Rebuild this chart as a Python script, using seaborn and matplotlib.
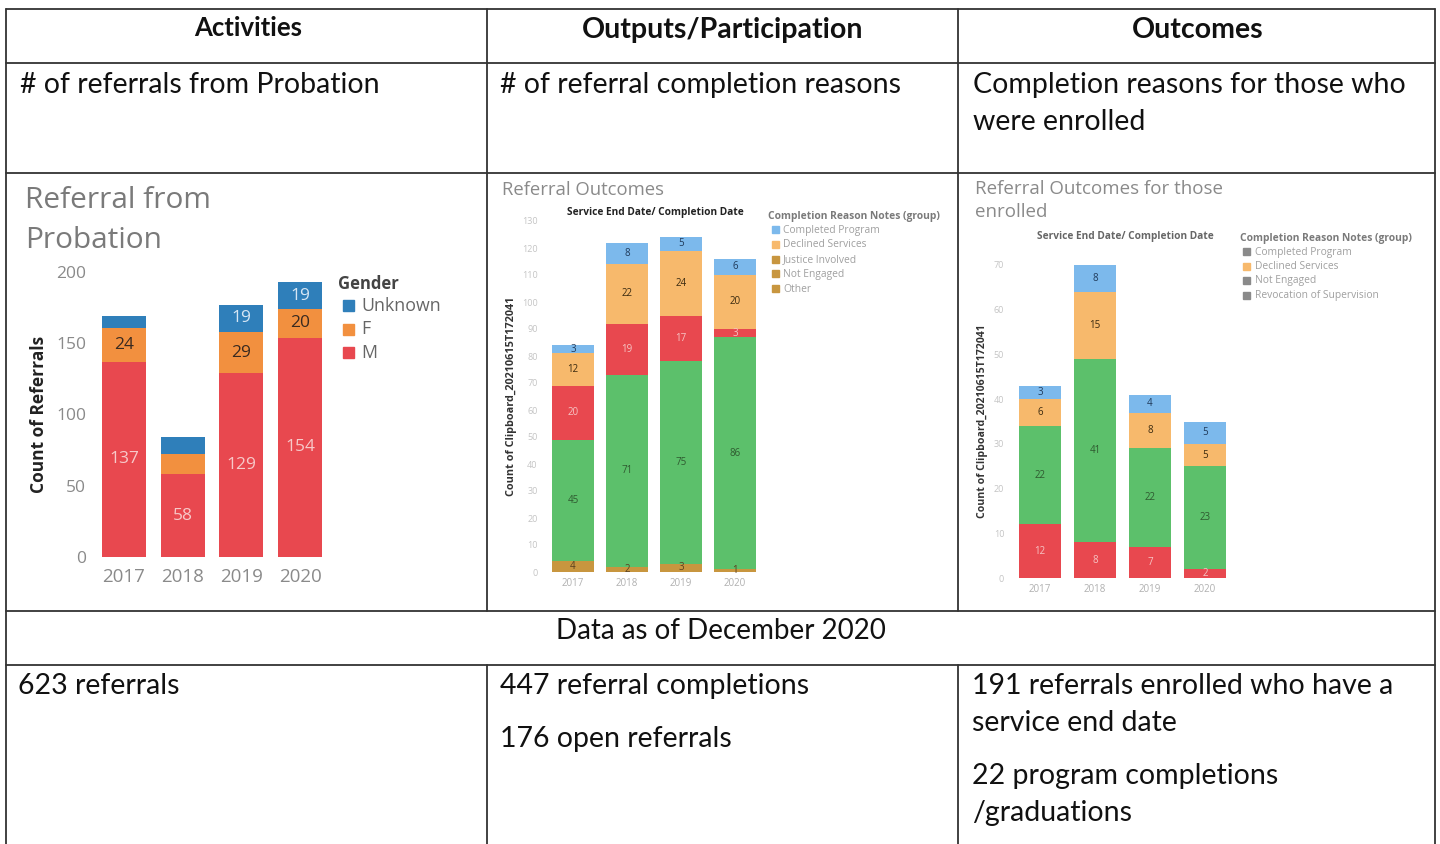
import matplotlib
matplotlib.use("Agg")
import matplotlib.pyplot as plt
import seaborn as sns
import numpy as np
import pandas as pd

sns.set_theme(style="white")
plt.rcParams['font.family'] = ['Lato', 'DejaVu Sans']

W, H = 1440, 844

# ---------------- data ----------------
years = ["2017", "2018", "2019", "2020"]

# Chart 1: Referral from Probation (by gender), stacked bottom -> top
gender_levels = ["M", "F", "Unknown"]
ref_M = [137, 58, 129, 154]
ref_F = [24, 14, 29, 20]
ref_U = [8, 12, 19, 19]
gender_show_F = [True, False, True, True]
gender_show_U = [False, False, True, True]

# Chart 2: Referral Outcomes, stacked bottom -> top
outcome_levels = ["Other", "Not Engaged", "Justice Involved", "Declined Services", "Completed Program"]
out_other = [4, 2, 3, 1]
out_not_engaged = [45, 71, 75, 86]
out_justice = [20, 19, 17, 3]
out_declined = [12, 22, 24, 20]
out_completed = [3, 8, 5, 6]
outcome_legend = ["Completed Program", "Declined Services", "Justice Involved", "Not Engaged", "Other"]

# Chart 3: Referral outcomes for those enrolled, stacked bottom -> top
enr_levels = ["Revocation of Supervision", "Not Engaged", "Declined Services", "Completed Program"]
enr_revocation = [12, 8, 7, 2]
enr_not_engaged = [22, 41, 22, 23]
enr_declined = [6, 15, 8, 5]
enr_completed = [3, 8, 4, 5]
enr_legend = ["Completed Program", "Declined Services", "Not Engaged", "Revocation of Supervision"]

ticks1 = [0, 50, 100, 150, 200]
ticks2 = list(range(0, 131, 10))
ticks3 = list(range(0, 71, 10))

# ---------------- colours ----------------
C_RED = "#e8484f"
C_ORANGE = "#f2903f"
C_BLUE = "#2f7fba"
C_LBLUE = "#7cb9ec"
C_LORANGE = "#f7b96c"
C_GREEN = "#5cc06b"
C_BROWN = "#c8963f"

fig = plt.figure(figsize=(W / 100, H / 100), dpi=100)
bg = fig.add_axes([0, 0, 1, 1])
bg.set_xlim(0, W)
bg.set_ylim(H, 0)
bg.axis("off")


def px_axes(x0, y0, x1, y1):
    return fig.add_axes([x0 / W, 1 - y1 / H, (x1 - x0) / W, (y1 - y0) / H])


# ---------------- table grid ----------------
lc = "#333333"
lw = 1.3
for y in [9, 63, 173, 611, 665]:
    bg.plot([6, 1435], [y, y], color=lc, lw=lw)
bg.plot([6, 6], [9, 844], color=lc, lw=lw)
bg.plot([1435, 1435], [9, 844], color=lc, lw=lw)
for x in [487, 958]:
    bg.plot([x, x], [9, 611], color=lc, lw=lw)
    bg.plot([x, x], [665, 844], color=lc, lw=lw)

tcol = "#111111"
bg.text(248, 28, "Activities", ha="center", va="center", fontsize=18.5, fontweight="bold", color=tcol)
bg.text(723, 30, "Outputs/Participation", ha="center", va="center", fontsize=20.5, fontweight="bold", color=tcol)
bg.text(1198, 30, "Outcomes", ha="center", va="center", fontsize=20.5, fontweight="bold", color=tcol)

fs_body = 20.5
bg.text(20, 85, "# of referrals from Probation", ha="left", va="center", fontsize=fs_body, color=tcol)
bg.text(500, 85, "# of referral completion reasons", ha="left", va="center", fontsize=fs_body, color=tcol)
bg.text(973, 85, "Completion reasons for those who", ha="left", va="center", fontsize=fs_body, color=tcol)
bg.text(973, 122, "were enrolled", ha="left", va="center", fontsize=fs_body, color=tcol)

bg.text(721, 631, "Data as of December 2020", ha="center", va="center", fontsize=20, color=tcol)
bg.text(18, 686, "623 referrals", ha="left", va="center", fontsize=fs_body, color=tcol)
bg.text(500, 686, "447 referral completions", ha="left", va="center", fontsize=fs_body, color=tcol)
bg.text(500, 739, "176 open referrals", ha="left", va="center", fontsize=fs_body, color=tcol)
bg.text(972, 686, "191 referrals enrolled who have a", ha="left", va="center", fontsize=fs_body, color=tcol)
bg.text(972, 723, "service end date", ha="left", va="center", fontsize=fs_body, color=tcol)
bg.text(972, 776, "22 program completions", ha="left", va="center", fontsize=fs_body, color=tcol)
bg.text(972, 813, "/graduations", ha="left", va="center", fontsize=fs_body, color=tcol)

CF = ['Open Sans', 'DejaVu Sans']


def stacked(ax, layers, colors, width):
    bottom = np.zeros(len(years))
    for vals, col in zip(layers, colors):
        df = pd.DataFrame({"year": years, "value": vals})
        sns.barplot(data=df, x="year", y="value", color=col, width=width,
                    bottom=bottom.copy(), ax=ax, saturation=1, edgecolor="none", linewidth=0)
        bottom = bottom + np.array(vals, dtype=float)
    return ax


def label_layer(ax, idx, vals, texts, color, fs):
    cont = ax.containers[idx]
    ax.bar_label(cont, labels=texts, label_type="center", color=color, fontsize=fs, family=CF)


def style_axes(ax, xlim, ylim, ticks, tick_color, tick_fs, xfs, xcolor, xpad=4):
    ax.set_xlim(*xlim)
    ax.set_ylim(*ylim)
    ax.set_yticks(ticks)
    ax.set_yticklabels([str(t) for t in ticks], color=tick_color, fontsize=tick_fs, family=CF)
    ax.tick_params(axis="y", length=0, pad=6)
    ax.tick_params(axis="x", length=0, pad=xpad)
    for lab in ax.get_xticklabels():
        lab.set_color(xcolor)
        lab.set_fontsize(xfs)
        lab.set_family(CF)
    for s in ax.spines.values():
        s.set_visible(False)
    ax.set_xlabel("")
    ax.patch.set_alpha(0)


# ---------------- chart 1 ----------------
ax1 = px_axes(94.5, 272, 329.5, 557)
stacked(ax1, [ref_M, ref_F, ref_U], [C_RED, C_ORANGE, C_BLUE], 0.75)
style_axes(ax1, (-0.5, 3.5), (0, 200), ticks1, "#8a8a8a", 12.5, 13.5, "#8a8a8a", xpad=8)
ax1.set_ylabel("Count of Referrals", fontsize=12.5, fontweight="bold", family=CF, color="#222222")
ax1.yaxis.set_label_coords((48 - 94.5) / 235, 0.5)
label_layer(ax1, 0, ref_M, [str(v) for v in ref_M], "#f7c9c9", 12.5)
label_layer(ax1, 1, ref_F, [str(v) if s else "" for v, s in zip(ref_F, gender_show_F)], "#3a2a20", 12.5)
label_layer(ax1, 2, ref_U, [str(v) if s else "" for v, s in zip(ref_U, gender_show_U)], "#d6e6f4", 12.5)

bg.text(25, 201, "Referral from", ha="left", va="center", fontsize=21.5, color="#7a7a7a", family=CF)
bg.text(25, 241, "Probation", ha="left", va="center", fontsize=21.5, color="#7a7a7a", family=CF)
bg.text(338, 284, "Gender", ha="left", va="center", fontsize=12, fontweight="bold", color="#444444", family=CF)
for i, (name, col) in enumerate(zip(["Unknown", "F", "M"], [C_BLUE, C_ORANGE, C_RED])):
    y = 306 + i * 23.5
    bg.add_patch(plt.Rectangle((343, y - 6), 11, 11, color=col))
    bg.text(361, y, name, ha="left", va="center", fontsize=12.8, color="#666666", family=CF)

# ---------------- chart 2 ----------------
ax2 = px_axes(546, 221, 762, 572)
stacked(ax2, [out_other, out_not_engaged, out_justice, out_declined, out_completed],
        [C_BROWN, C_GREEN, C_RED, C_LORANGE, C_LBLUE], 0.76)
style_axes(ax2, (-0.5, 3.5), (0, 130), ticks2, "#c4c4c4", 6.5, 7, "#b0b0b0")
ax2.set_ylabel("Count of Clipboard_20210615T172041", fontsize=7.8, fontweight="bold", family=CF, color="#333333")
ax2.yaxis.set_label_coords((517 - 546) / 216, 0.5)
lab_fs = 7
label_layer(ax2, 0, out_other, [str(v) for v in out_other], "#5a4020", lab_fs)
label_layer(ax2, 1, out_not_engaged, [str(v) for v in out_not_engaged], "#2f5a30", lab_fs)
label_layer(ax2, 2, out_justice, [str(v) for v in out_justice], "#f6c4c4", lab_fs)
label_layer(ax2, 3, out_declined, [str(v) for v in out_declined], "#3a2a10", lab_fs)
label_layer(ax2, 4, out_completed, [str(v) for v in out_completed], "#203a5a", lab_fs)

bg.text(502, 190, "Referral Outcomes", ha="left", va="center", fontsize=13.3, color="#8a8a8a", family=CF)
bg.text(655, 213, "Service End Date/ Completion Date", ha="center", va="center", fontsize=7.3,
        fontweight="bold", color="#222222", family=CF)
bg.text(768, 216, "Completion Reason Notes (group)", ha="left", va="center", fontsize=7.4,
        fontweight="bold", color="#7a7a7a", family=CF)
leg2_cols = [C_LBLUE, C_LORANGE, C_BROWN, C_BROWN, C_BROWN]
for i, (name, col) in enumerate(zip(outcome_legend, leg2_cols)):
    y = 230 + i * 14.8
    bg.add_patch(plt.Rectangle((772, y - 4), 7, 7, color=col))
    bg.text(783, y, name, ha="left", va="center", fontsize=7.4, color="#a0a0a0", family=CF)

# ---------------- chart 3 ----------------
ax3 = px_axes(1012.5, 265, 1232.5, 578)
stacked(ax3, [enr_revocation, enr_not_engaged, enr_declined, enr_completed],
        [C_RED, C_GREEN, C_LORANGE, C_LBLUE], 0.75)
style_axes(ax3, (-0.5, 3.5), (0, 70), ticks3, "#c4c4c4", 6.5, 7, "#b0b0b0")
ax3.set_ylabel("Count of Clipboard_20210615T172041", fontsize=7.6, fontweight="bold", family=CF, color="#333333")
ax3.yaxis.set_label_coords((988 - 1012.5) / 220, 0.5)
label_layer(ax3, 0, enr_revocation, [str(v) for v in enr_revocation], "#f6c4c4", lab_fs)
label_layer(ax3, 1, enr_not_engaged, [str(v) for v in enr_not_engaged], "#2f5a30", lab_fs)
label_layer(ax3, 2, enr_declined, [str(v) for v in enr_declined], "#3a2a10", lab_fs)
label_layer(ax3, 3, enr_completed, [str(v) for v in enr_completed], "#203a5a", lab_fs)

bg.text(975, 189, "Referral Outcomes for those", ha="left", va="center", fontsize=13.5, color="#8a8a8a", family=CF)
bg.text(975, 212, "enrolled", ha="left", va="center", fontsize=13.5, color="#8a8a8a", family=CF)
bg.text(1125, 236, "Service End Date/ Completion Date", ha="center", va="center", fontsize=7.3,
        fontweight="bold", color="#666666", family=CF)
bg.text(1240, 238, "Completion Reason Notes (group)", ha="left", va="center", fontsize=7.4,
        fontweight="bold", color="#7a7a7a", family=CF)
leg3_cols = ["#8a8a8a", C_LORANGE, "#8a8a8a", "#8a8a8a"]
for i, (name, col) in enumerate(zip(enr_legend, leg3_cols)):
    y = 252 + i * 14.5
    bg.add_patch(plt.Rectangle((1243, y - 4), 7, 7, color=col))
    bg.text(1255, y, name, ha="left", va="center", fontsize=7.4, color="#a0a0a0", family=CF)

fig.savefig("out.png", dpi=100)
